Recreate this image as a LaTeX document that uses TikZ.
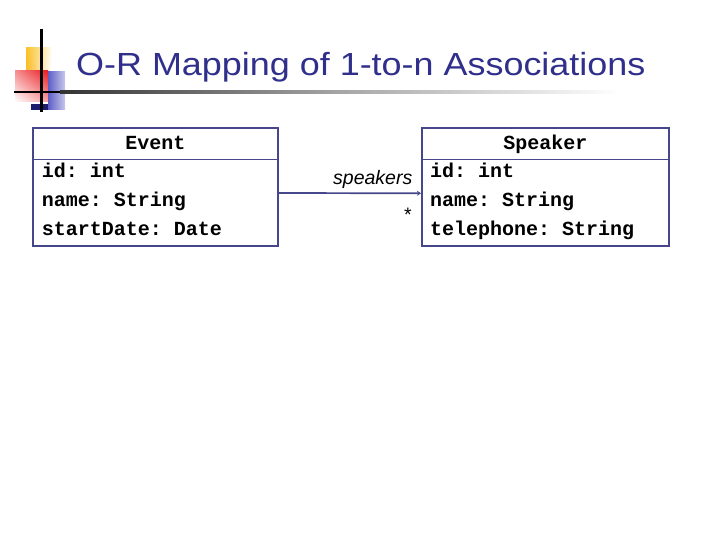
\documentclass[tikz,border=0pt]{standalone}
\usepackage{fontspec}
\usepackage{graphicx}
\setmainfont{Liberation Sans}
\newfontfamily\monob{Liberation Mono}[UprightFont=*-Bold]
\usetikzlibrary{arrows.meta,shadings}
\frenchspacing
\definecolor{titleblue}{RGB}{48,48,140}
\definecolor{boxblue}{RGB}{70,70,140}
\definecolor{ylw}{RGB}{250,195,40}
\definecolor{rd}{RGB}{235,30,35}
\definecolor{bl}{RGB}{95,95,200}
\definecolor{navy}{RGB}{30,30,110}
\tikzset{
  classbox/.style={draw=boxblue, line width=1.8pt, inner sep=0pt},
  sepline/.style={draw=boxblue, line width=1.3pt},
  attr/.style={anchor=base west, inner sep=0pt, font=\monob\frenchspacing\fontsize{20}{22}\selectfont},
  hdr/.style={anchor=base, inner sep=0pt, font=\monob\fontsize{20}{22}\selectfont},
  role/.style={inner sep=0pt, font=\fontsize{19.5}{22}\selectfont}
}
\begin{document}
\begin{tikzpicture}[x=1pt,y=-1pt]
\useasboundingbox (0,0) rectangle (720,540);
% logo
\shade[upper left=ylw, lower left=ylw!85!orange, upper right=ylw!10, lower right=white] (26,48) rectangle (51,71);
\shade[upper right=rd, upper left=rd!50, lower right=rd!40, lower left=white] (15,71) rectangle (48,102);
\shade[left color=bl, right color=bl!35] (48,72) rectangle (65,110);
\fill[navy] (31,104) rectangle (48,110);
\draw[line width=2.8pt, black] (14,92) -- (60,92);
\shade[left color=black!80, right color=white, middle color=black!35] (60,90.6) rectangle (620,93.4);
\draw[line width=2.8pt, black] (41.7,29) -- (41.7,112);
% title
\node[anchor=base west, inner sep=0pt, text=titleblue, font=\fontsize{32}{36}\selectfont] (title) at (76,75.5) {\scalebox{1.123}[1]{O-R Mapping of 1-to-n Associations}};
% Event class
\node[classbox, minimum width=245pt, minimum height=118pt] (event) at (155.4,186.7) {};
\draw[sepline] (event.west |- 0,159.5) -- (event.east |- 0,159.5);
\node[hdr] (eventname) at (155.4,150) {Event};
\node[attr] (e1) at (41.7,178) {id: int};
\node[attr] (e2) at (41.7,207) {name: String};
\node[attr] (e3) at (41.7,235.5) {startDate: Date};
% Speaker class
\node[classbox, minimum width=247pt, minimum height=117.5pt] (speaker) at (545.4,187) {};
\draw[sepline] (speaker.west |- 0,159.5) -- (speaker.east |- 0,159.5);
\node[hdr] (speakername) at (545.4,150) {Speaker};
\node[attr] (s1) at (430,178) {id: int};
\node[attr] (s2) at (430,207) {name: String};
\node[attr] (s3) at (430,235.5) {telephone: String};
% association
\draw[boxblue, line width=1.7pt, -{Stealth[length=4pt,width=5pt]}] ([yshift=-6.3pt]event.east) -- ([yshift=-6.3pt]speaker.west);
\node[role, anchor=base east] (rolename) at (412.5,185) {\itshape speakers};
\node[role, anchor=base east] (mult) at (412,222) {*};
\end{tikzpicture}
\end{document}
